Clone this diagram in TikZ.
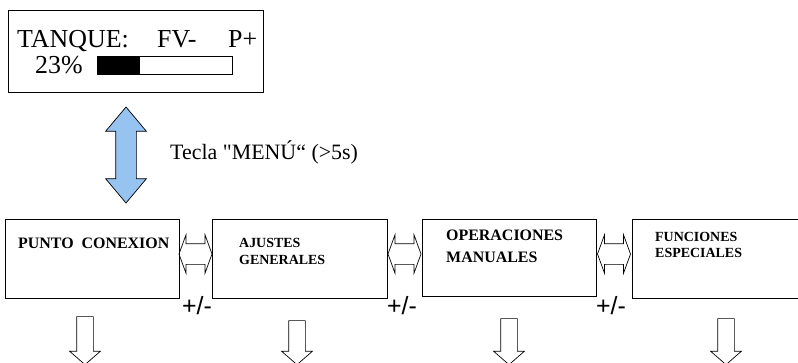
\documentclass[tikz,border=0pt]{standalone}
\usepackage{fontspec}
\setmainfont{Liberation Serif}
\newfontfamily\arialfont{Liberation Sans}
\newfontfamily\rawserif[Ligatures=TeXOff]{Liberation Serif}
\usetikzlibrary{shapes.arrows,positioning}
\definecolor{menublue}{RGB}{150,195,240}
\tikzset{
  menubox/.style={draw, line width=0.8bp, minimum height=79bp, inner sep=0pt},
  boxtext/.style={anchor=north west, inner sep=0pt, align=left},
  sidearrow/.style={double arrow, draw, line width=0.7bp, minimum height=33bp,
    inner xsep=0pt, inner ysep=10bp, double arrow head extend=9bp, double arrow tip angle=140},
  downarrow/.style={single arrow, draw, line width=0.7bp, rotate=-90,
    inner xsep=0pt, inner ysep=8bp, single arrow head extend=7bp, single arrow tip angle=98},
  plusminus/.style={anchor=base, inner sep=0pt, font=\arialfont\fontsize{25}{28}\selectfont}
}
\begin{document}
\begin{tikzpicture}[x=1bp,y=1bp]
  \clip (0,0) rectangle (798,362);

  % pantalla
  \node (lcd) at (135.5,311) [draw, line width=0.8bp, minimum width=255bp, minimum height=82bp] {};
  \node (tanque) at (17,315) [anchor=base west, inner sep=0pt, font=\fontsize{26}{30}\selectfont] {TANQUE:};
  \node (fv) at (157,315) [anchor=base west, inner sep=0pt, font=\fontsize{26}{30}\selectfont] {FV-};
  \node (pmas) at (228,315) [anchor=base west, inner sep=0pt, font=\fontsize{26}{30}\selectfont] {P+};
  \node (nivel) at (35,289) [anchor=base west, inner sep=0pt, font=\fontsize{26}{30}\selectfont] {23\%};
  \node (bar) at (164.5,297) [draw, line width=0.8bp, minimum width=135bp, minimum height=18bp, inner sep=0pt] {};
  \fill (bar.south west) rectangle ++(43,18);

  \node (menu) at (126,207) [double arrow, rotate=90, draw, line width=0.7bp, fill=menublue,
    minimum height=96bp, inner xsep=0pt, inner ysep=10bp, double arrow head extend=10bp,
    double arrow tip angle=80] {};
  \node (tecla) at (170,203) [anchor=base west, inner sep=0pt, font=\rawserif\fontsize{22}{25}\selectfont] {Tecla "MENÚ“ (>5s)};

  % menus
  \node (punto) at (92,103.5) [menubox, minimum width=174bp] {};
  \node (ajustes) at (299.5,103.5) [menubox, minimum width=175bp] {};
  \node (operac) at (509,104.5) [menubox, minimum width=174bp, minimum height=77bp] {};
  \node (funcion) at (720,103.5) [menubox, minimum width=176bp] {};

  \node (tpunto) at (18,114) [anchor=base west, inner sep=0pt, font=\bfseries\fontsize{16}{18}\selectfont] {PUNTO\ \ CONEXION};
  \node (tajustes) at (239,124) [boxtext, font=\bfseries\fontsize{14}{17}\selectfont] {AJUSTES\\GENERALES};
  \node (toperac) at (446,132) [boxtext, font=\bfseries\fontsize{16}{22}\selectfont] {OPERACIONES\\MANUALES};
  \node (tfuncion) at (655,130) [boxtext, font=\bfseries\fontsize{14}{16}\selectfont] {FUNCIONES\\ESPECIALES};

  \node (pa) at (195.5,108) [sidearrow] {};
  \node (ao) at (404.5,108) [sidearrow] {};
  \node (of) at (614,108) [sidearrow] {};

  \node (pm1) at (197,48) [plusminus] {+/-};
  \node (pm2) at (402,48) [plusminus] {+/-};
  \node (pm3) at (611,48) [plusminus] {+/-};

  \node (dpunto) at (85,25) [downarrow, minimum height=48bp] {};
  \node (dajustes) at (297,23) [downarrow, minimum height=44bp] {};
  \node (doperac) at (509,24) [downarrow, minimum height=46bp] {};
  \node (dfuncion) at (726,24) [downarrow, minimum height=46bp] {};
\end{tikzpicture}
\end{document}
